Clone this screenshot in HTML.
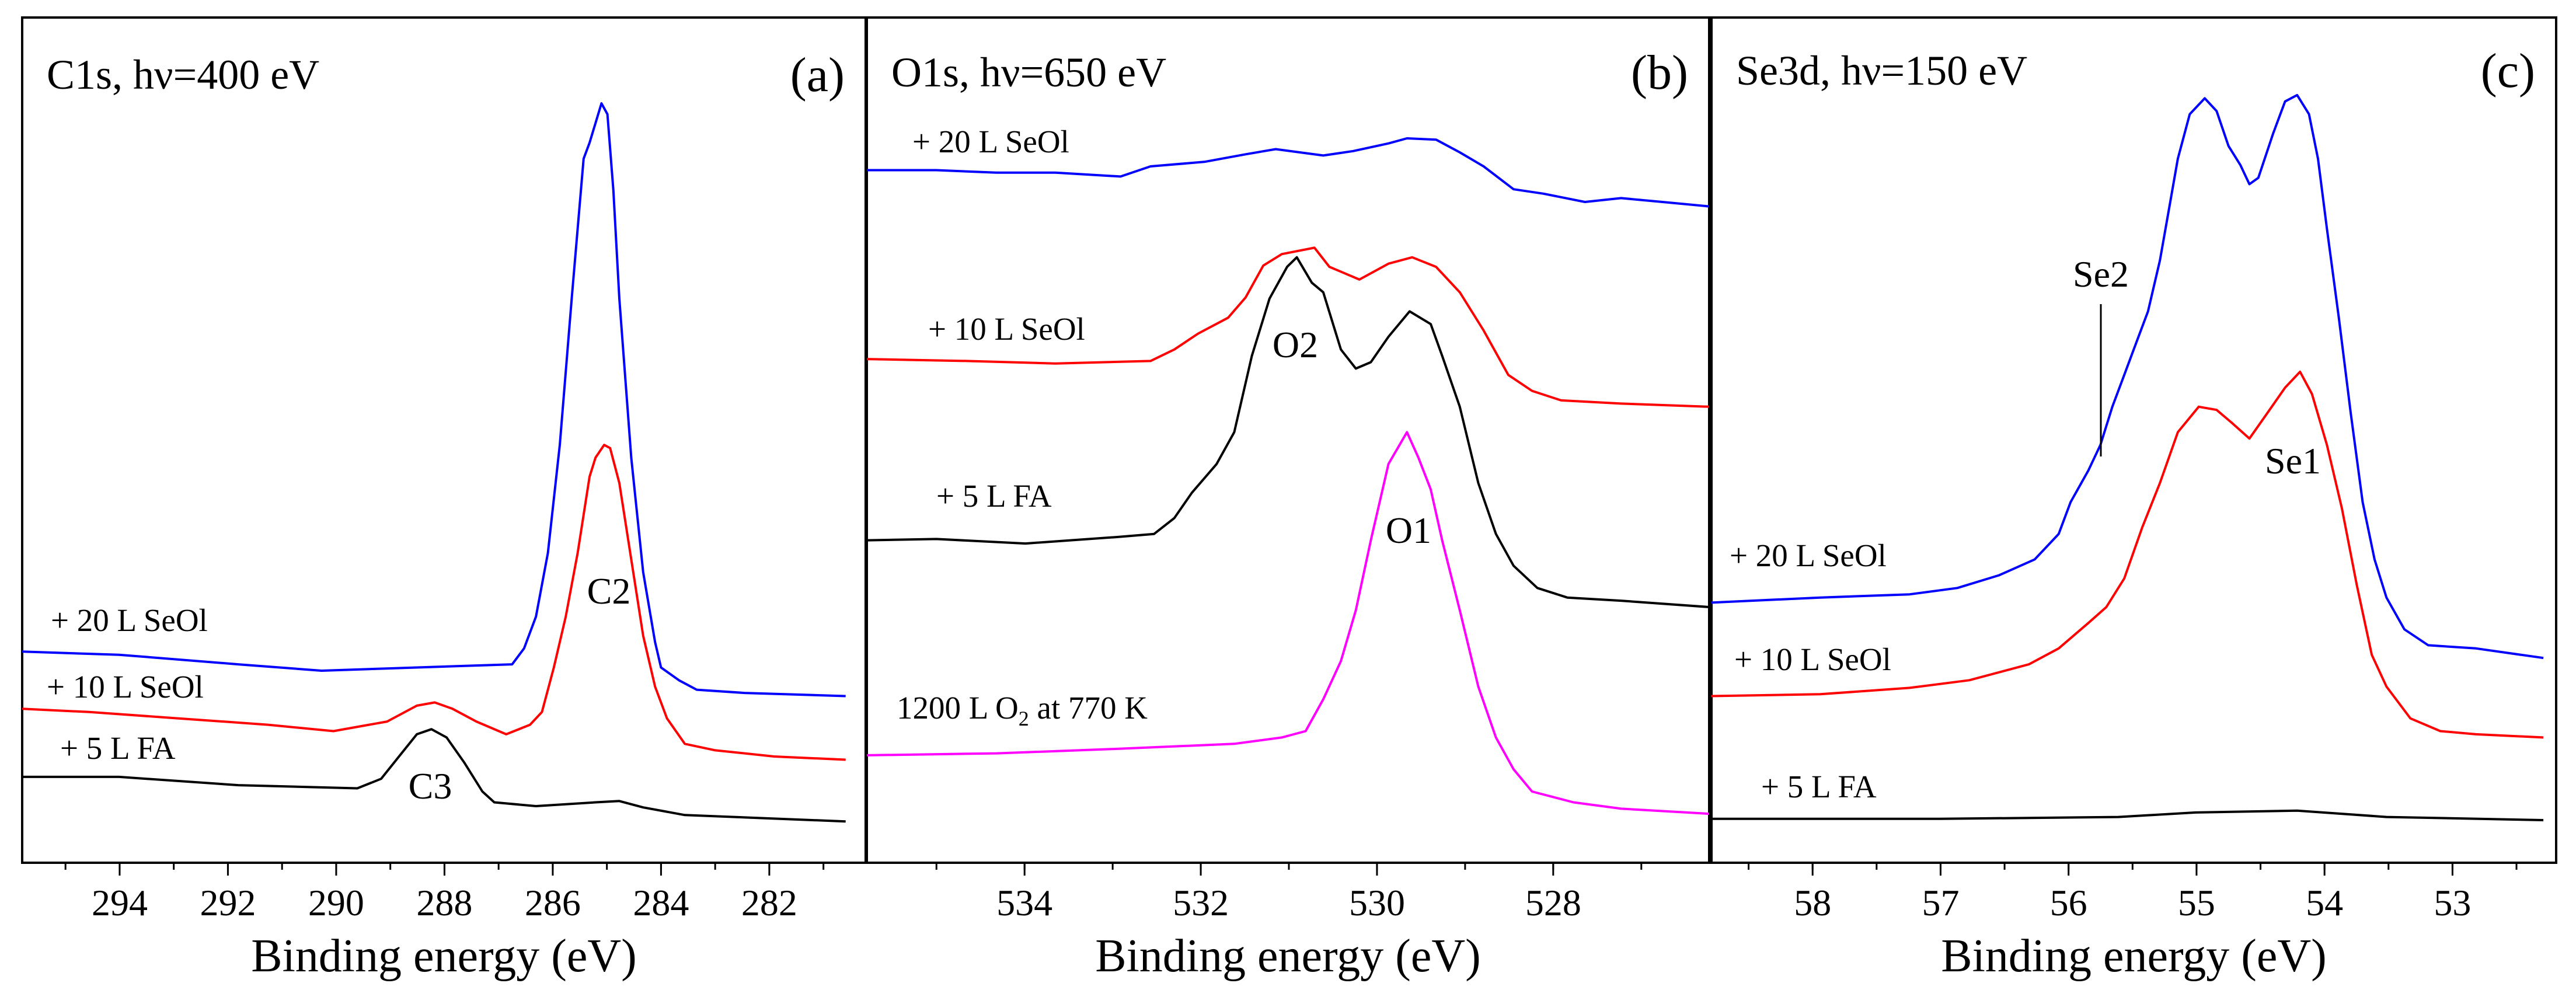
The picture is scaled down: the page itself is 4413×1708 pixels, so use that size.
<!DOCTYPE html>
<html><head><meta charset="utf-8"><style>
html,body{margin:0;padding:0;background:#fff;}
svg{display:block;font-family:"Liberation Serif",serif;}
</style></head><body>
<svg id="chart" width="4413" height="1708" viewBox="0 0 4413 1708" xmlns="http://www.w3.org/2000/svg"></svg>
<script>
// Panel (a) C1s
const aBlueE=[295.80,294.01,291.81,290.27,288.51,286.75,286.53,286.31,286.09,285.87,285.65,285.43,285.32,285.10,284.99,284.88,284.77,284.55,284.33,284.11,284.00,283.67,283.34,282.46,280.59];
const aBlueI=[375,370,355,345,350,355,380,430,530,700,930,1150,1175,1237,1220,1100,930,680,500,390,350,330,315,310,305];
const aRedE=[295.80,294.56,292.91,291.26,290.05,289.06,288.51,288.18,287.85,287.41,286.86,286.42,286.20,285.98,285.76,285.54,285.32,285.21,285.05,284.94,284.77,284.55,284.33,284.11,283.89,283.56,283.01,281.91,280.59];
const aRedI=[285,280,270,260,250,265,290,295,285,265,245,260,280,350,430,530,650,680,700,695,640,520,400,320,270,230,220,210,205];
const aBlackE=[295.80,294.01,291.81,289.61,289.17,288.84,288.51,288.24,287.96,287.63,287.30,287.08,286.31,285.21,284.77,284.33,283.56,280.59];
const aBlackI=[178,178,165,160,175,210,245,253,240,200,155,138,132,138,140,130,118,108];
const aTicks=[294,292,290,288,286,284,282];
// Panel (b) O1s
const bBlueE=[535.79,535.00,534.32,533.65,532.91,532.57,531.96,531.49,531.15,530.61,530.27,529.87,529.66,529.33,529.06,528.79,528.45,528.11,527.64,527.23,526.76,526.23];
const bBlueI=[1132,1132,1128,1128,1122,1138,1145,1157,1165,1155,1162,1174,1182,1180,1160,1138,1102,1095,1082,1088,1082,1075];
const bRedE=[535.79,534.66,533.65,532.57,532.30,532.03,531.69,531.49,531.29,531.08,530.71,530.54,530.20,529.87,529.60,529.33,529.06,528.79,528.51,528.24,527.91,527.23,526.23];
const bRedI=[835,832,828,832,850,875,900,932,982,1000,1010,980,960,985,995,980,940,880,810,785,770,765,760];
const bBlackE=[535.79,535.00,533.99,532.97,532.53,532.30,532.10,531.82,531.62,531.42,531.22,531.02,530.91,530.74,530.61,530.41,530.24,530.07,529.87,529.63,529.39,529.26,529.06,528.85,528.65,528.45,528.18,527.84,527.23,526.23];
const bBlackI=[550,552,545,555,560,585,625,670,720,840,930,980,995,955,940,850,820,830,870,910,890,840,760,640,560,510,475,460,455,445];
const bMagE=[535.79,534.32,532.97,531.62,531.08,530.81,530.61,530.41,530.24,530.07,529.87,529.66,529.53,529.39,529.26,529.06,528.85,528.65,528.45,528.24,527.77,527.23,526.23];
const bMagI=[212,215,222,230,240,250,300,360,440,550,670,720,680,630,550,440,320,240,190,155,138,128,120];
const bTicks=[534,532,530,528];
// Panel (c) Se3d
const cBlueE=[58.793,57.941,57.242,56.869,56.543,56.264,56.077,55.984,55.845,55.751,55.658,55.565,55.472,55.379,55.286,55.216,55.146,55.053,54.936,54.843,54.750,54.657,54.587,54.517,54.401,54.308,54.214,54.121,54.051,53.981,53.888,53.795,53.702,53.609,53.516,53.376,53.190,52.817,52.290];
const cBlueI=[452,460,465,475,495,520,560,610,660,700,760,810,860,910,990,1070,1150,1220,1245,1225,1170,1140,1110,1120,1190,1240,1250,1220,1150,1040,900,750,610,520,460,410,385,380,365];
const cRedE=[58.793,57.941,57.242,56.776,56.310,56.077,55.845,55.705,55.565,55.425,55.286,55.146,54.983,54.843,54.726,54.587,54.447,54.308,54.191,54.098,53.981,53.864,53.748,53.631,53.516,53.329,53.095,52.817,52.290];
const cRedI=[305,308,318,330,355,380,420,445,490,570,640,720,760,755,735,710,750,790,815,780,700,600,480,370,320,270,250,245,240];
const cBlackE=[58.793,57.009,55.611,55.006,54.214,53.516,52.290];
const cBlackI=[112,112,115,122,125,115,110];
const cTicks=[58,57,56,55,54,53];

const NS="http://www.w3.org/2000/svg";
const svg=document.getElementById('chart');
function mk(tag,attrs,parent){const e=document.createElementNS(NS,tag);for(const k in attrs)e.setAttribute(k,attrs[k]);(parent||svg).appendChild(e);return e;}
const TOP=30,BOT=1478;
function yScale(v){return BOT-(v-43)*(BOT-TOP)/(1372-43);}

function panel(cfg){
  const g=mk('g',{});
  
  
  const x=v=>cfg.x0+(cfg.e0-v)*(cfg.x1-cfg.x0)/(cfg.e0-cfg.e1);
  const fr=mk('rect',{x:cfg.x0,y:TOP,width:cfg.x1-cfg.x0,height:BOT-TOP,fill:'none',stroke:'#000','stroke-width':4},g);
  
  
  for(let v=Math.ceil(cfg.e1/cfg.minor)*cfg.minor;v<=cfg.e0;v+=cfg.minor){
    const t=mk('line',{x1:x(v),x2:x(v),y1:BOT,y2:BOT+12,stroke:'#000','stroke-width':3},g);
    
    
  }
  cfg.ticks.forEach(v=>{
    const t=mk('line',{x1:x(v),x2:x(v),y1:BOT,y2:BOT+22,stroke:'#000','stroke-width':3},g);
    
    
    const l=mk('text',{x:x(v),y:1568,'font-size':64,'text-anchor':'middle',fill:'#000'},g);
    l.textContent=v;
    
    
  });
  const at=mk('text',{x:(cfg.x0+cfg.x1)/2,y:1664,'font-size':80,'text-anchor':'middle',fill:'#000'},g);
  at.textContent='Binding energy (eV)';
  
  
  const tt=mk('text',{x:cfg.x0+42,y:cfg.ty,'font-size':72,fill:'#000'},g);
  tt.textContent=cfg.title;
  
  
  const lt=mk('text',{x:cfg.x1-36,y:cfg.ty+4,'font-size':84,'text-anchor':'end',fill:'#000'},g);
  lt.textContent=cfg.letter;
  
  
  cfg.series.forEach(s=>{
    const d=s.E.map((e,i)=>(i?'L':'M')+x(e).toFixed(1)+','+yScale(s.I[i]).toFixed(1)).join('');
    const p=mk('path',{d:d,fill:'none',stroke:s.c,'stroke-width':4,'stroke-linejoin':'round'},g);
    
    
  });
  cfg.labels.forEach(l=>{
    const t=mk('text',{x:l.x,y:l.y,'font-size':l.fs||55,'text-anchor':l.a||'start',fill:'#000'},g);
    t.innerHTML=l.t;
    
    
  });
  return x;
}
panel({name:'panel-a-c1s',x0:38,x1:1483,e0:295.8,e1:280.22,minor:1,ticks:aTicks,title:'C1s, hν=400 eV',letter:'(a)',ty:152,
 series:[{E:aBlueE,I:aBlueI,c:'#0000ff',n:'series-20L-seol'},{E:aRedE,I:aRedI,c:'#ff0000',n:'series-10L-seol'},{E:aBlackE,I:aBlackI,c:'#000',n:'series-5L-fa'}],
 labels:[{x:87,y:1081,t:'+ 20 L SeOl',n:'label-20L-seol'},{x:80,y:1195,t:'+ 10 L SeOl',n:'label-10L-seol'},{x:103,y:1300,t:'+ 5 L FA',n:'label-5L-fa'},
 {x:1043,y:1034,t:'C2',fs:64,a:'middle',n:'peak-label-c2'},{x:737,y:1368,t:'C3',fs:64,a:'middle',n:'peak-label-c3'}]});
panel({name:'panel-b-o1s',x0:1485,x1:2928,e0:535.79,e1:526.23,minor:1,ticks:bTicks,title:'O1s, hν=650 eV',letter:'(b)',ty:148,
 series:[{E:bBlueE,I:bBlueI,c:'#0000ff',n:'series-20L-seol'},{E:bRedE,I:bRedI,c:'#ff0000',n:'series-10L-seol'},{E:bBlackE,I:bBlackI,c:'#000',n:'series-5L-fa'},{E:bMagE,I:bMagI,c:'#ff00ff',n:'series-o2-770k'}],
 labels:[{x:1563,y:261,t:'+ 20 L SeOl',n:'label-20L-seol'},{x:1590,y:582,t:'+ 10 L SeOl',n:'label-10L-seol'},{x:1604,y:868,t:'+ 5 L FA',n:'label-5L-fa'},
 {x:1536,y:1231,t:'1200 L O<tspan font-size="36" dy="12">2</tspan><tspan dy="-12"> at 770 K</tspan>',n:'label-o2-770k'},
 {x:2219,y:612,t:'O2',fs:64,a:'middle',n:'peak-label-o2'},{x:2413,y:930,t:'O1',fs:64,a:'middle',n:'peak-label-o1'}]});
panel({name:'panel-c-se3d',x0:2932,x1:4379,e0:58.79,e1:52.19,minor:0.5,ticks:cTicks,title:'Se3d, hν=150 eV',letter:'(c)',ty:145,
 series:[{E:cBlueE,I:cBlueI,c:'#0000ff',n:'series-20L-seol'},{E:cRedE,I:cRedI,c:'#ff0000',n:'series-10L-seol'},{E:cBlackE,I:cBlackI,c:'#000',n:'series-5L-fa'}],
 labels:[{x:2963,y:970,t:'+ 20 L SeOl',n:'label-20L-seol'},{x:2971,y:1148,t:'+ 10 L SeOl',n:'label-10L-seol'},{x:3017,y:1366,t:'+ 5 L FA',n:'label-5L-fa'},
 {x:3599,y:491,t:'Se2',fs:64,a:'middle',n:'peak-label-se2'},{x:3928,y:811,t:'Se1',fs:64,a:'middle',n:'peak-label-se1'}]});
const se2=mk('line',{x1:3599,x2:3599,y1:521,y2:782,stroke:'#000','stroke-width':3});


</script>
</body></html>
